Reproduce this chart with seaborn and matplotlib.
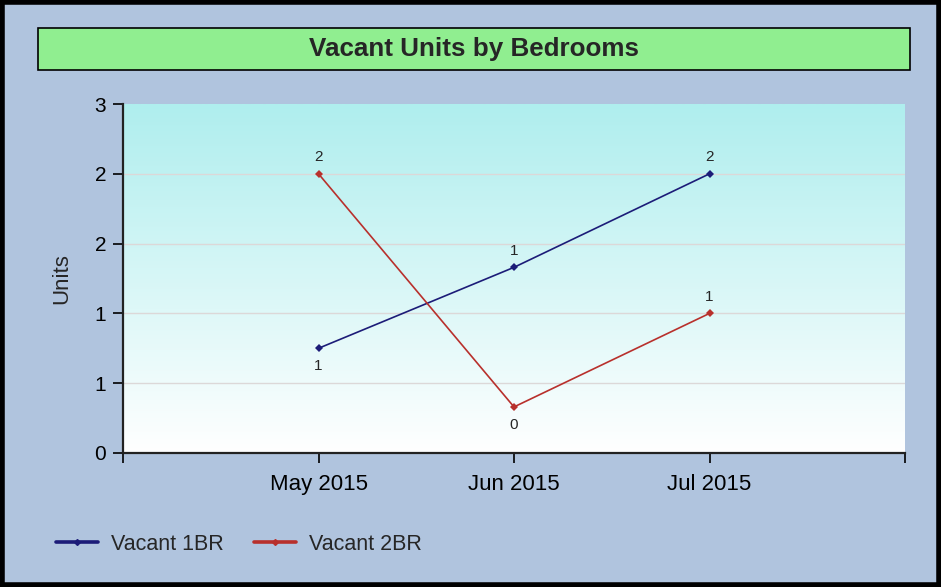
import numpy as np
import pandas as pd
import matplotlib
matplotlib.use("Agg")
import matplotlib.pyplot as plt
from matplotlib.patches import Rectangle
from matplotlib.lines import Line2D
from matplotlib.colors import LinearSegmentedColormap
import seaborn as sns

months = ["May 2015", "Jun 2015", "Jul 2015"]
vacant_1br = [0.75, 1.33, 2.0]
vacant_2br = [2.0, 0.33, 1.0]
series_names = ["Vacant 1BR", "Vacant 2BR"]
colors = ["#1c1c78", "#b8302c"]
label_pos = {"Vacant 1BR": ["below", "above", "above"],
             "Vacant 2BR": ["above", "below", "above"]}

df = pd.DataFrame({
    "pos": list(range(len(months))) * 2,
    "month": months * 2,
    "units": vacant_1br + vacant_2br,
    "series": [series_names[0]] * len(months) + [series_names[1]] * len(months),
})

sns.set_style("white")
plt.rcParams["font.family"] = ["Liberation Sans", "DejaVu Sans"]

fig = plt.figure(figsize=(9.41, 5.87), dpi=100)
fig.patch.set_facecolor("#b0c4de")

# outer border
fig.add_artist(Rectangle((0.002, 0.003), 0.996, 0.994, transform=fig.transFigure,
                         fill=False, edgecolor="black", linewidth=4))

# title box
fig.add_artist(Rectangle((38 / 941, 1 - 70 / 587), 872 / 941, 42 / 587,
                         transform=fig.transFigure, facecolor="#90ee90",
                         edgecolor="black", linewidth=1.2))
fig.text(0.504, 1 - 49 / 587, "Vacant Units by Bedrooms", ha="center", va="center",
         fontsize=18.7, fontweight="bold")

ax = fig.add_axes([123 / 941, 1 - 453 / 587, 782 / 941, 349 / 587])

# gradient background
grad = np.linspace(0, 1, 256).reshape(-1, 1)
cmap = LinearSegmentedColormap.from_list("bg", ["#ffffff", "#afeeee"])
ax.imshow(grad, aspect="auto", cmap=cmap, origin="lower",
          extent=[0, 1, 0, 1], transform=ax.transAxes, zorder=0)

sns.lineplot(data=df, x="pos", y="units", hue="series", palette=colors,
             marker="D", markersize=4, markeredgewidth=0, linewidth=1.2,
             legend=False, ax=ax, zorder=3)

for name, vals in zip(series_names, [vacant_1br, vacant_2br]):
    for i, v in enumerate(vals):
        pos = label_pos[name][i]
        txt = str(int(np.floor(v + 0.5)))
        ax.annotate(txt, (i, v), xytext=(0, 7 if pos == "above" else -8),
                    textcoords="offset points", ha="center",
                    va="bottom" if pos == "above" else "top", fontsize=11, zorder=4)

ax.set_xlim(-1, 3)
ax.set_ylim(0, 2.5)
ax.set_xticks([-1, 0, 1, 2, 3])
ax.set_xticklabels([""] + months + [""], fontsize=16)
yticks = [0, 0.5, 1.0, 1.5, 2.0, 2.5]
ax.set_yticks(yticks)
ax.set_yticklabels([str(int(np.floor(t + 0.5))) for t in yticks], fontsize=15)
for t in yticks[1:-1]:
    ax.axhline(t, color="#dcd8d8", linewidth=1, zorder=1)

ax.set_xlabel("")
ax.set_ylabel("Units", fontsize=16, labelpad=16)
ax.tick_params(axis="both", direction="out", length=7, width=1.2, colors="black",
               bottom=True, left=True)
ax.tick_params(axis="x", pad=8)
ax.tick_params(axis="y", pad=5)
for side in ["left", "bottom"]:
    ax.spines[side].set_color("#222222")
    ax.spines[side].set_linewidth(1.6)
for side in ["top", "right"]:
    ax.spines[side].set_visible(False)

handles = [Line2D([0], [0], color=c, linewidth=2.6, marker="D", markersize=3)
           for c in colors]
fig.legend(handles, series_names, loc="center left",
           bbox_to_anchor=(37 / 941, 1 - 544 / 587), ncol=2, frameon=False,
           fontsize=15.5, handlelength=1.95, handletextpad=0.6, columnspacing=1.4)

fig.savefig("out.png", dpi=100, facecolor=fig.get_facecolor())
